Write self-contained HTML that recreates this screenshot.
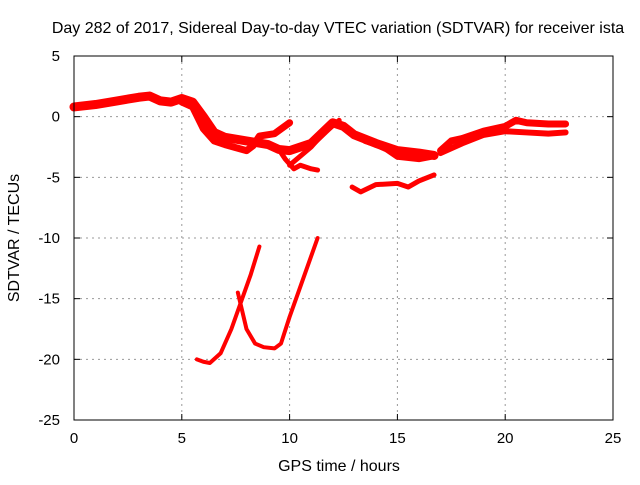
<!DOCTYPE html>
<html><head><meta charset="utf-8"><style>
body{margin:0;background:#fff}
svg text{font-family:"Liberation Sans",sans-serif;font-size:15px;fill:#000}
svg text.big{font-size:16px}
</style></head><body>
<svg id="chart" width="640" height="480">
<text class="big" x="338" y="33" text-anchor="middle">Day 282 of 2017, Sidereal Day-to-day VTEC variation (SDTVAR) for receiver ista</text>
<g id="grid"></g><g id="series"></g><g id="axes"></g>
<text class="big" x="339" y="471" text-anchor="middle">GPS time / hours</text>
<text class="big" transform="translate(19,238) rotate(-90)" text-anchor="middle">SDTVAR / TECUs</text>
</svg>
<script>
const xTicks=[0,5,10,15,20,25];
const yTicks=[5,0,-5,-10,-15,-20,-25];
const band1=[[0,0.8],[1,1.0],[2,1.3],[3,1.6],[3.5,1.7],[4,1.3],[4.5,1.2],[5,1.5],[5.5,1.2],[6,0],[6.5,-1.3],[7,-1.7],[8,-2.0],[9,-2.3],[9.5,-2.7],[10,-2.8],[11,-2.2],[12,-0.5],[12.5,-0.8],[13,-1.5],[14,-2.2],[15,-2.8],[16,-3.0],[16.7,-3.2]];
const band2=[[5,1.2],[5.5,0.8],[6,-1],[6.5,-2],[7,-2.3],[8,-2.8],[8.3,-2.4],[8.6,-1.6],[9.3,-1.4],[10,-0.5]];
const band3=[[9.5,-2.7],[9.8,-3.5],[10.2,-4.3],[10.5,-4.0],[11,-4.3],[11.3,-4.4]];
const band4=[[10,-4],[11,-2.5],[11.5,-1.5],[12.3,-0.3]];
const band5=[[17,-2.8],[17.5,-2],[18,-1.8],[19,-1.2],[20,-0.8],[20.5,-0.3],[21,-0.5],[22,-0.6],[22.8,-0.6]];
const band6=[[17,-3],[18,-2.2],[19,-1.5],[20,-1.2],[21,-1.3],[22,-1.4],[22.8,-1.3]];
const band7=[[13.5,-2.0],[14,-2.3],[14.5,-2.7],[15,-3.3],[16,-3.5],[16.6,-3.3]];
const band8=[[12.9,-5.8],[13.3,-6.2],[14,-5.6],[15,-5.5],[15.5,-5.8],[16,-5.3],[16.7,-4.8]];
const low1=[[5.7,-20],[6,-20.2],[6.3,-20.3],[6.8,-19.5],[7.3,-17.5],[7.8,-15],[8.2,-13],[8.6,-10.7]];
const low2=[[7.6,-14.5],[8,-17.5],[8.4,-18.7],[8.8,-19],[9.3,-19.1],[9.6,-18.7],[10,-16.5],[10.5,-14],[11,-11.5],[11.3,-10]];
const allSeries=[band1,band2,band3,band4,band5,band6,band7,band8,low1,low2];
const widths=[9,7,5,5,7,6,6,5,4,4];
const L=74,R=613,T=56,B=420;
const xs=v=>L+(v-0)/25*(R-L);
const ys=v=>T+(5-v)/30*(B-T);
const NS='http://www.w3.org/2000/svg';
function mk(t,a,p){const e=document.createElementNS(NS,t);for(const k in a)e.setAttribute(k,a[k]);p.appendChild(e);return e;}
const grid=document.getElementById('grid'),axes=document.getElementById('axes'),ser=document.getElementById('series');
mk('rect',{x:L,y:T,width:R-L,height:B-T,fill:'none',stroke:'#000','stroke-width':1},axes);
xTicks.forEach(t=>{const x=xs(t);
 if(t>0&&t<25){const g=mk('line',{x1:x,x2:x,y1:T,y2:B,stroke:'#999','stroke-dasharray':'2,4'},grid);}
 mk('line',{x1:x,x2:x,y1:B,y2:B-6,stroke:'#000'},axes);mk('line',{x1:x,x2:x,y1:T,y2:T+6,stroke:'#000'},axes);
 const tx=mk('text',{x:x,y:B+23,'text-anchor':'middle'},axes);tx.textContent=t;
 
 });
yTicks.forEach(t=>{const y=ys(t);
 if(t<5&&t>-25){const g=mk('line',{x1:L,x2:R,y1:y,y2:y,stroke:'#999','stroke-dasharray':'2,4'},grid);}
 mk('line',{x1:L,x2:L+6,y1:y,y2:y,stroke:'#000'},axes);mk('line',{x1:R,x2:R-6,y1:y,y2:y,stroke:'#000'},axes);
 const tx=mk('text',{x:L-14,y:y+5,'text-anchor':'end'},axes);tx.textContent=t;
 
 });
allSeries.forEach((s,i)=>{const p=mk('polyline',{points:s.map(d=>xs(d[0])+','+ys(d[1])).join(' '),fill:'none',stroke:'#f00','stroke-width':widths[i],'stroke-linejoin':'round','stroke-linecap':'round'},ser);
 
 });
</script>
</body></html>
